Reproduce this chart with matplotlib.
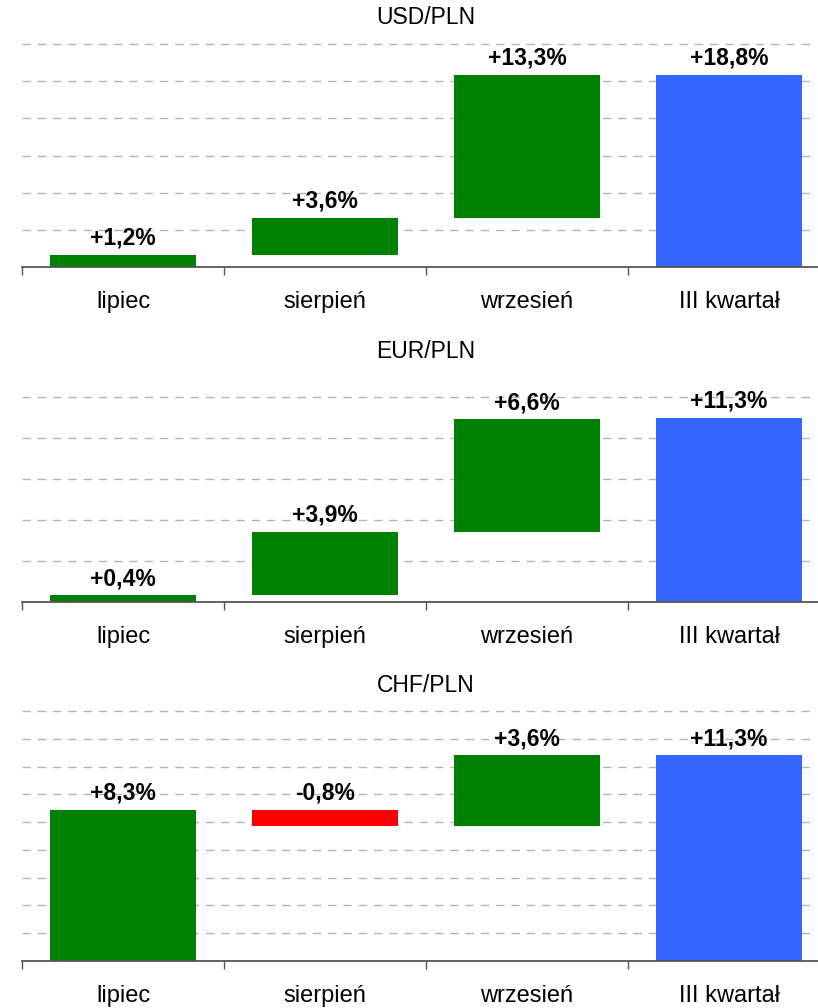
import numpy as np
import matplotlib
matplotlib.use("Agg")
import matplotlib.pyplot as plt

plt.rcParams['font.family'] = ['Liberation Sans', 'DejaVu Sans']

# Monthly changes of PLN exchange rates in Q3 (percent) and the quarter total
categories = ["lipiec", "sierpień", "wrzesień", "III kwartał"]
pairs = ["USD/PLN", "EUR/PLN", "CHF/PLN"]
usd_monthly = [1.2, 3.6, 13.3]
usd_total = 18.8
eur_monthly = [0.4, 3.9, 6.6]
eur_total = 11.3
chf_monthly = [8.3, -0.8, 3.6]
chf_total = 11.3

panels = [
    (pairs[0], usd_monthly, usd_total),
    (pairs[1], eur_monthly, eur_total),
    (pairs[2], chf_monthly, chf_total),
]

GREEN = "#008000"
RED = "#ff0000"
BLUE = "#3366ff"
GRID = "#b4b4b4"
SPINE = "#555555"

W, H = 818, 1008
fig = plt.figure(figsize=(W / 100, H / 100), dpi=100)

# pixel layout of each panel: (plot top, baseline, title y, y max, grid intervals)
layout = [
    (44, 267, 18, 21.82, 6),
    (397, 602, 352, 12.57, 5),
    (711, 961, 686, 13.73, 9),
]

cat_px = 202.0
left_px = 22.0


def fmt(v):
    s = f"{v:+.1f}%"
    return s.replace(".", ",")


for (title, monthly, total), (top_px, base_px, title_px, ymax, nint) in zip(panels, layout):
    ax = fig.add_axes([left_px / W, 1 - base_px / H, 1 - left_px / W, (base_px - top_px) / H])
    xmax = -0.5 + (W - left_px) / cat_px
    ax.set_xlim(-0.5, xmax)
    ax.set_ylim(0, ymax)

    # dashed horizontal grid
    grid_levels = np.linspace(0, ymax, nint + 1)[1:]
    grid_end = -0.5 + (813 - left_px) / cat_px
    ax.hlines(grid_levels, -0.5, grid_end, colors=GRID, linewidth=1.0,
              linestyles=(0, (6, 5)), zorder=0, clip_on=False)

    # waterfall: each month starts where the compounded index ended
    level = 0.0
    for i, v in enumerate(monthly):
        new_level = ((1 + level / 100) * (1 + v / 100) - 1) * 100
        lo, hi = min(level, new_level), max(level, new_level)
        ax.bar(i, hi - lo, bottom=lo, width=0.72,
               color=GREEN if v >= 0 else RED, zorder=2)
        ax.annotate(fmt(v), (i, hi), xytext=(0, 12), textcoords="offset points",
                    ha="center", va="center", fontsize=16.5, fontweight="bold",
                    zorder=3)
        level = new_level
    ax.bar(3, total, width=0.72, color=BLUE, zorder=2)
    ax.annotate(fmt(total), (3, total), xytext=(0, 12), textcoords="offset points",
                ha="center", va="center", fontsize=16.5, fontweight="bold", zorder=3)

    for s in ["top", "right", "left"]:
        ax.spines[s].set_visible(False)
    ax.spines["bottom"].set_color(SPINE)
    ax.spines["bottom"].set_linewidth(1.3)
    ax.set_yticks([])

    ax.set_xticks(np.arange(-0.5, 3.0, 1.0))
    ax.set_xticklabels([])
    ax.tick_params(axis="x", which="major", length=5.5, width=1.0, color=SPINE)
    ax.set_xticks(np.arange(4), minor=True)
    ax.set_xticklabels(categories, minor=True, fontsize=17)
    ax.tick_params(axis="x", which="minor", length=0, pad=17.5)

    fig.text(426 / W, 1 - title_px / H, title, ha="center", va="center", fontsize=16.5)

fig.savefig("out.png", dpi=100)
